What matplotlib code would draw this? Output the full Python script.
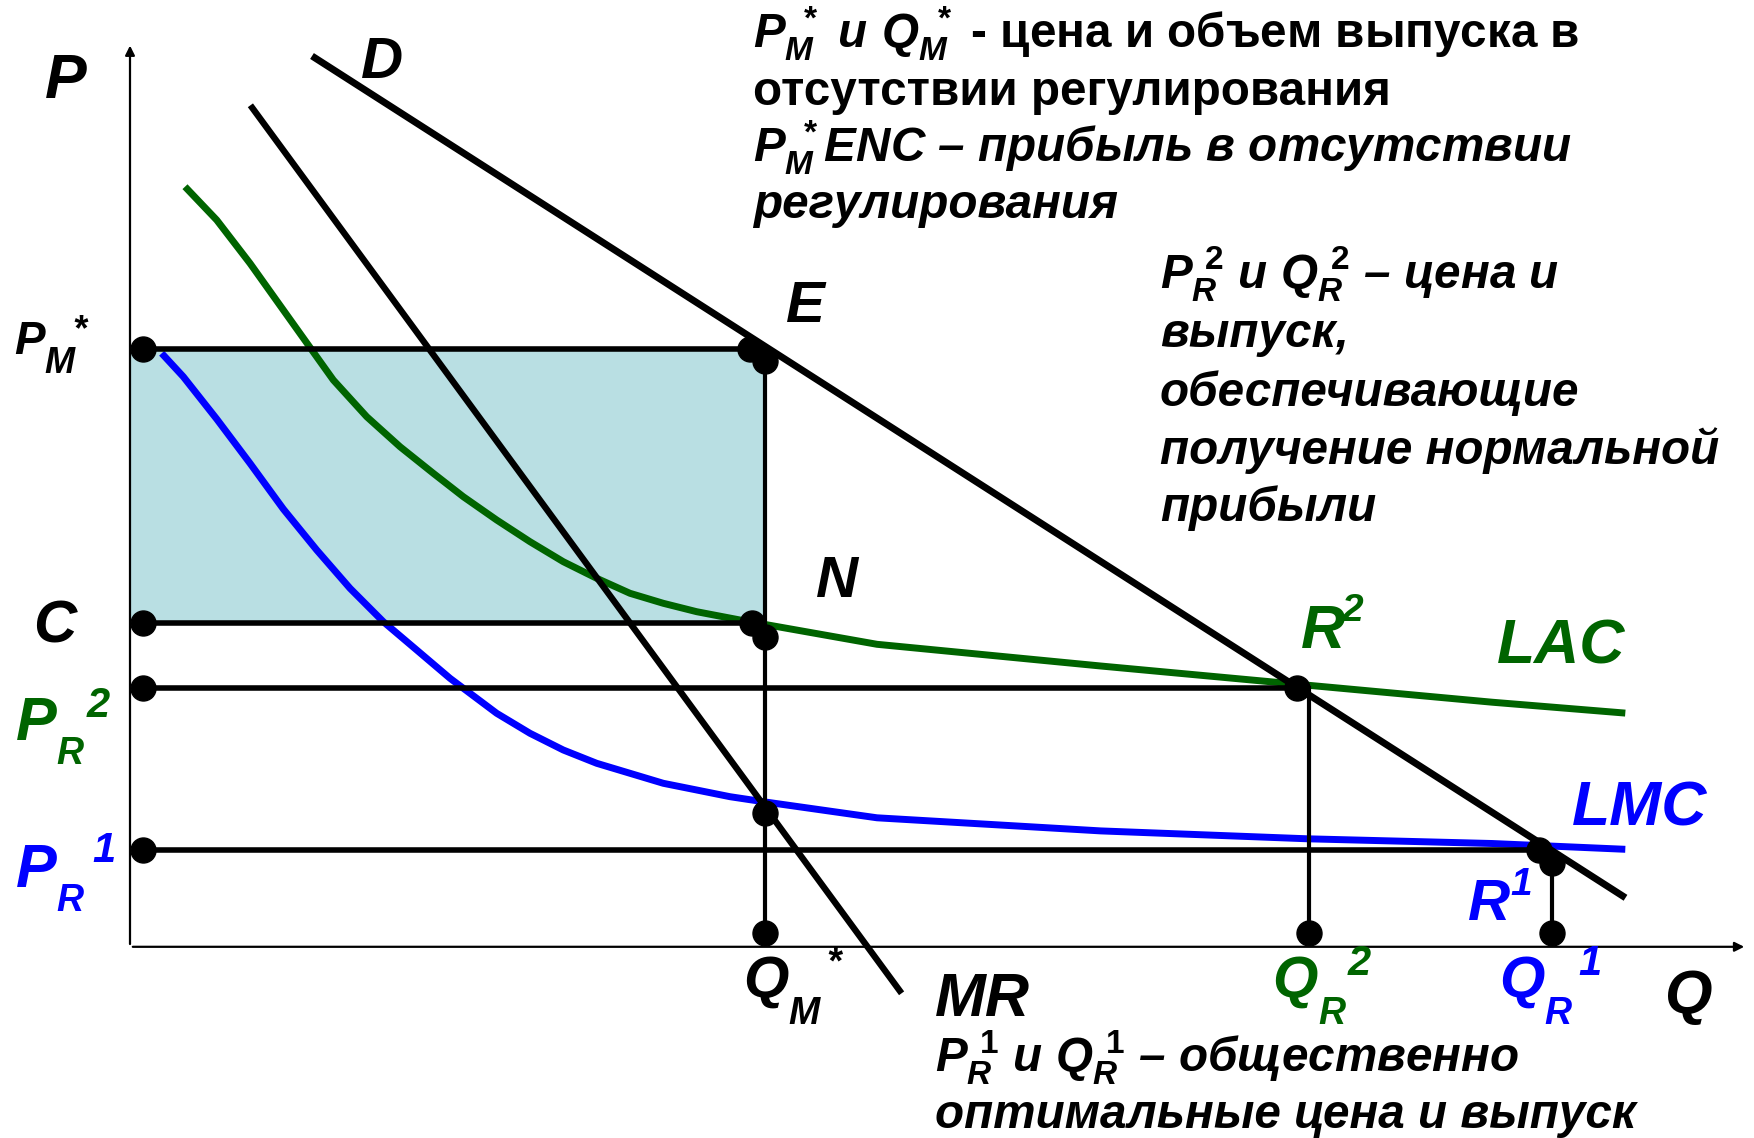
import matplotlib
matplotlib.use("Agg")
import matplotlib.pyplot as plt

plt.rcParams["font.family"] = ["Liberation Sans", "DejaVu Sans"]
plt.rcParams["mathtext.fontset"] = "custom"
plt.rcParams["mathtext.it"] = "Liberation Sans:italic:bold"
plt.rcParams["mathtext.rm"] = "Liberation Sans:bold"
plt.rcParams["mathtext.bf"] = "Liberation Sans:bold"

GREEN = "#006400"
BLUE = "#0000ff"
FILL = "#b9dfe3"

# demand D and marginal revenue MR (straight lines, end points)
demand_q = [1.82, 14.955]
demand_p = [8.908, 0.49]
mr_q = [1.204, 7.716]
mr_p = [8.415, -0.465]

# long-run average cost LAC
lac_q = [0.55, 0.867, 1.20, 1.533, 1.767, 2.033, 2.367, 2.70, 3.033, 3.333,
         3.667, 4.00, 4.333, 4.667, 5.00, 5.333, 5.667, 6.10, 7.47, 9.707,
         11.776, 13.62, 14.953]
lac_p = [7.601, 7.268, 6.835, 6.368, 6.04, 5.668, 5.301, 5.001, 4.735, 4.501,
         4.268, 4.051, 3.851, 3.685, 3.535, 3.435, 3.351, 3.268, 3.025, 2.808,
         2.616, 2.446, 2.337]

# long-run marginal cost LMC
lmc_q = [0.317, 0.533, 0.867, 1.20, 1.533, 1.867, 2.20, 2.533, 2.867, 3.20,
         3.667, 4.00, 4.333, 4.667, 5.00, 5.333, 5.667, 6.00, 6.333, 7.47,
         9.707, 11.776, 13.62, 14.953]
lmc_p = [5.935, 5.701, 5.278, 4.835, 4.378, 3.968, 3.585, 3.251, 2.968, 2.685,
         2.335, 2.135, 1.968, 1.835, 1.735, 1.635, 1.568, 1.501, 1.451, 1.29,
         1.159, 1.08, 1.033, 0.975]

# price levels: P_M*, C, P_R2, P_R1
level_p = [5.98, 3.24, 2.59, 0.97]
level_end_q = [6.20, 6.22, 11.67, 14.09]
left_q = 0.126

# quantities: Q_M*, Q_R2, Q_R1
drop_q = [6.35, 11.79, 14.22]
drop_top_p = [5.86, 2.59, 0.835]
bottom_p = 0.134

# marked points (E, N, R2, R1, MR = LMC)
point_q = [6.20, 6.35, 6.22, 6.35, 11.67, 14.09, 14.22, 6.35]
point_p = [5.98, 5.86, 3.235, 3.10, 2.59, 0.97, 0.835, 1.335]

fig = plt.figure(figsize=(17.54, 11.38), dpi=100)
ax = fig.add_axes([0, 0, 1, 1])
ax.set_xlim(-1.30, 16.24)
ax.set_ylim(-1.912, 9.468)
ax.axis("off")

# profit rectangle P_M* E N C
ax.fill_between([0, drop_q[0]], level_p[1], level_p[0], color=FILL, lw=0, zorder=0)

# axes with arrows
ax.annotate("", xy=(0, 9.04), xytext=(0, 0),
            arrowprops=dict(arrowstyle="-|>", lw=1.6, color="black", mutation_scale=14))
ax.annotate("", xy=(16.17, 0), xytext=(0, 0),
            arrowprops=dict(arrowstyle="-|>", lw=1.6, color="black", mutation_scale=14))

ax.plot(lac_q, lac_p, color=GREEN, lw=5.0, solid_capstyle="butt",
        solid_joinstyle="round", zorder=2)
ax.plot(lmc_q, lmc_p, color=BLUE, lw=5.0, solid_capstyle="butt",
        solid_joinstyle="round", zorder=2)
ax.plot(demand_q, demand_p, color="black", lw=5.0, solid_capstyle="butt", zorder=3)
ax.plot(mr_q, mr_p, color="black", lw=4.6, solid_capstyle="butt", zorder=3)

for p, q_end in zip(level_p, level_end_q):
    ax.plot([left_q, q_end], [p, p], color="black", lw=4.0, zorder=3)
for q, top in zip(drop_q, drop_top_p):
    ax.plot([q, q], [top, bottom_p], color="black", lw=3.0, zorder=3)

ax.plot([left_q] * len(level_p), level_p, "o", ms=18, color="black", zorder=5)
ax.plot(drop_q, [bottom_p] * len(drop_q), "o", ms=18, color="black", zorder=5)
ax.plot(point_q, point_p, "o", ms=18, color="black", zorder=5)

# letter labels: text, q, p, size, colour
labels = [
    ("P", -0.85, 8.49, 45, "black"),
    ("D", 2.31, 8.69, 42, "black"),
    ("E", 6.56, 6.25, 42, "black"),
    ("N", 6.86, 3.50, 42, "black"),
    ("C", -0.965, 3.04, 43, "black"),
    ("P", -1.16, 5.93, 33, "black"),
    ("M", -0.853, 5.742, 26, "black"),
    ("*", -0.573, 6.07, 26, "black"),
    ("P", -1.143, 2.068, 44, GREEN),
    ("R", -0.74, 1.83, 27, GREEN),
    ("2", -0.433, 2.30, 30, GREEN),
    ("P", -1.143, 0.598, 44, BLUE),
    ("R", -0.74, 0.362, 27, BLUE),
    ("1", -0.377, 0.851, 30, BLUE),
    ("Q", 6.128, -0.50, 42, "black"),
    ("M", 6.586, -0.767, 27, "black"),
    ("*", 6.966, -0.268, 27, "black"),
    ("MR", 8.05, -0.692, 44, "black"),
    ("Q", 15.34, -0.662, 44, "black"),
    ("Q", 11.42, -0.50, 42, GREEN),
    ("R", 11.88, -0.767, 27, GREEN),
    ("2", 12.18, -0.282, 30, GREEN),
    ("Q", 13.69, -0.50, 42, BLUE),
    ("R", 14.14, -0.767, 27, BLUE),
    ("1", 14.48, -0.282, 30, BLUE),
    ("R", 11.71, 2.988, 44, GREEN),
    ("2", 12.12, 3.258, 28, GREEN),
    ("R", 13.376, 0.273, 42, BLUE),
    ("1", 13.80, 0.518, 28, BLUE),
    ("LAC", 13.67, 2.838, 45, GREEN),
    ("LMC", 14.42, 1.213, 45, BLUE),
]
for text, q, p, size, color in labels:
    ax.text(q, p, text, fontsize=size, color=color, fontweight="bold",
            fontstyle="italic", ha="left", va="baseline")

# explanatory notes: text, q, p, style
notes = [
    (r"$P_M^{\ *}\ и\ Q_M^{\ *}$ - цена и объем выпуска в", 6.23, 8.988, "normal"),
    ("отсутствии регулирования", 6.23, 8.418, "normal"),
    (r"$P_M^{\ *}$ENC – прибыль в отсутствии", 6.23, 7.848, "italic"),
    ("регулирования", 6.23, 7.288, "italic"),
    (r"$P_R^{\ 2}$ и $Q_R^{\ 2}$ – цена и", 10.30, 6.588, "italic"),
    ("выпуск,", 10.30, 5.998, "italic"),
    ("обеспечивающие", 10.30, 5.408, "italic"),
    ("получение нормальной", 10.30, 4.828, "italic"),
    ("прибыли", 10.30, 4.258, "italic"),
    (r"$P_R^{\ 1}$ и $Q_R^{\ 1}$ – общественно", 8.05, -1.252, "italic"),
    ("оптимальные цена и выпуск", 8.05, -1.812, "italic"),
]
for text, q, p, style in notes:
    ax.text(q, p, text, fontsize=34.3, color="black", fontweight="bold",
            fontstyle=style, ha="left", va="baseline")

fig.savefig("out.png", dpi=100)
